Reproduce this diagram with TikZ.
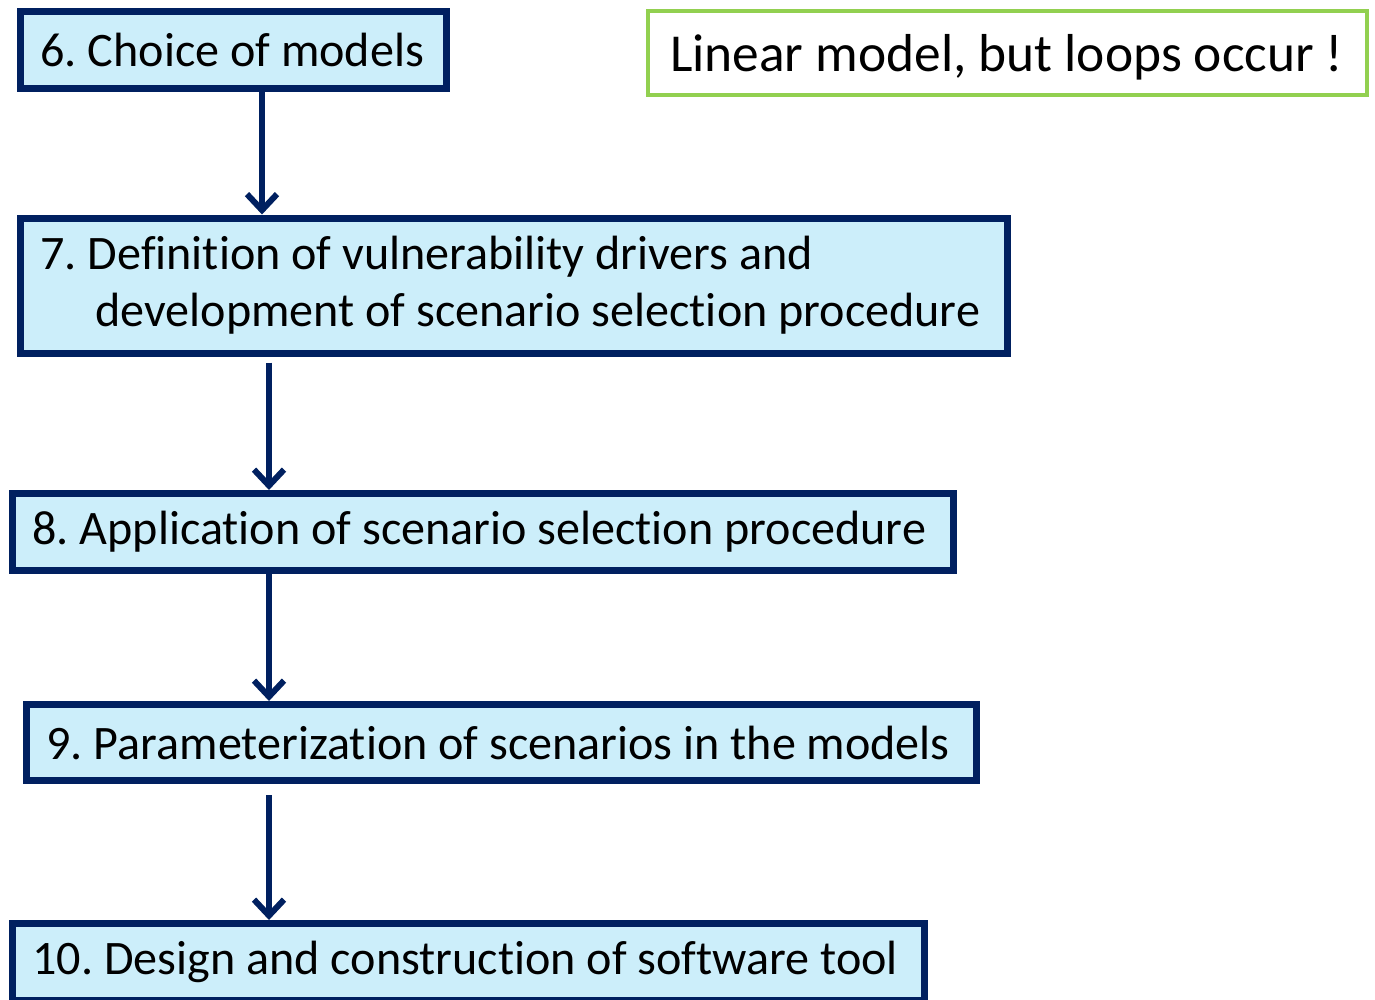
\documentclass[tikz,border=0pt]{standalone}
\usepackage{fontspec}
\setmainfont{Carlito}[Ligatures=NoCommon]
\usetikzlibrary{arrows.meta}
\definecolor{navy}{HTML}{002060}
\definecolor{paleblue}{HTML}{CCEEFA}
\definecolor{leafgreen}{HTML}{92D050}
\frenchspacing
\begin{document}
\begin{tikzpicture}[x=1pt, y=-1pt, >={Straight Barb[length=16pt,width=30pt]},
    stage/.style={draw=navy, line width=7pt, fill=paleblue, anchor=north west, align=flush left,
      inner xsep=20pt, inner ysep=0pt, font=\fontsize{48.1}{57}\selectfont, text=black},
    link/.style={->, draw=navy, line width=6pt}]
\useasboundingbox (0,0) rectangle (1375,999);
\clip (0,0) rectangle (1375,999);
% the stages
\node[stage, minimum width=426pt, minimum height=77pt, text width=386pt] (b6) at (17,8) {6. Choice of models};
\node[stage, minimum width=987pt, minimum height=135pt, text width=947pt] (b7) at (17,214.5) {7. Definition of vulnerability drivers and\\\hspace*{55pt}development of scenario selection procedure};
\node[stage, minimum width=941pt, minimum height=77pt, text width=901pt] (b8) at (9,490) {8. Application of scenario selection procedure};
\node[stage, minimum width=950pt, minimum height=76pt, text width=910pt] (b9) at (23,701) {9. Parameterization of scenarios in the models};
\node[stage, minimum width=912pt, minimum height=77pt, text width=872pt] (b10) at (9,920) {10. Design and construction of software tool};
% remark
\node[draw=leafgreen, line width=4pt, anchor=north west, minimum width=719pt, minimum height=84pt, inner xsep=22pt, inner ysep=0pt, text width=675pt, text depth=0pt, align=flush left, font=\fontsize{53.4}{62}\selectfont] (note) at (646,9) {Linear model, but loops occur !};
% arrows
\coordinate (t6) at ([xshift=245pt]b6.south west);
\coordinate (t7) at ([xshift=252pt]b7.south west);
\coordinate (t8) at ([xshift=260pt]b8.south west);
\coordinate (t9) at ([xshift=246pt]b9.south west);
\draw[link] (t6) -- (t6 |- b7.north);
\draw[link, shorten <=6pt] (t7) -- (t7 |- b8.north);
\draw[link] (t8) -- (t8 |- b9.north);
\draw[link, shorten <=11pt] (t9) -- (t9 |- b10.north);
\end{tikzpicture}
\end{document}
